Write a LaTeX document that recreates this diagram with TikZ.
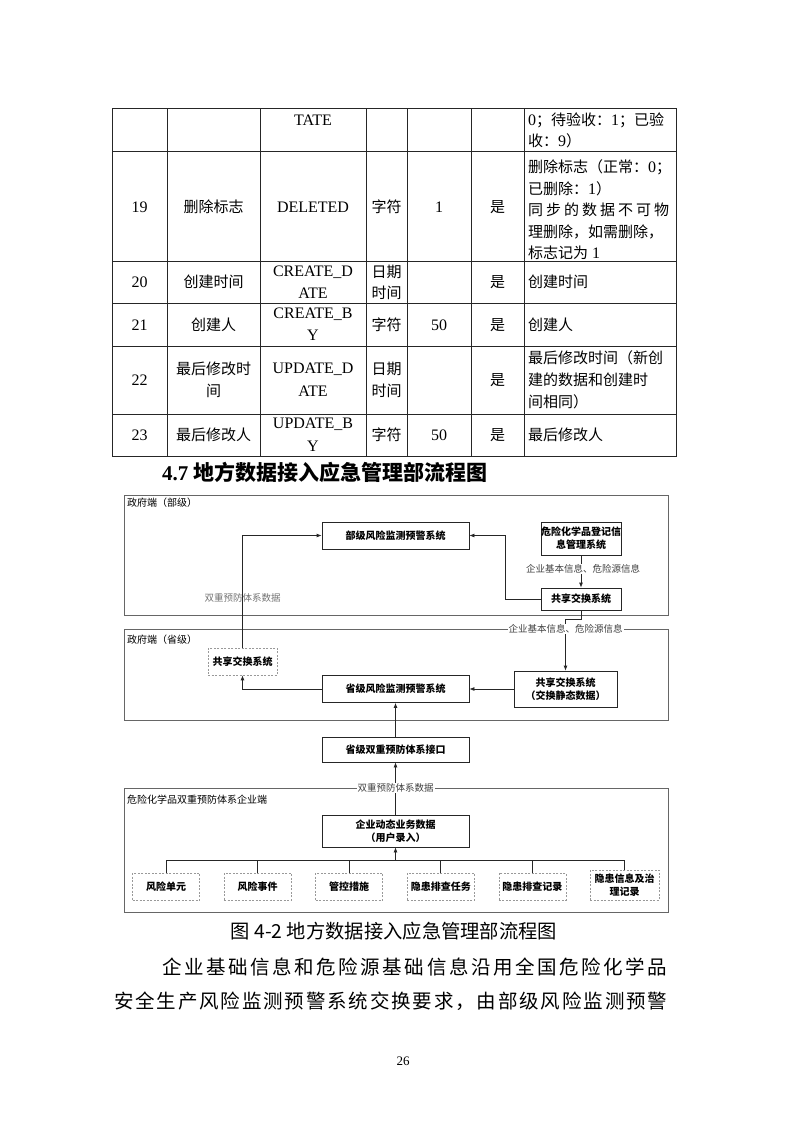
\documentclass[tikz,border=0pt]{standalone}
\usepackage{fontspec}
\setmainfont{Liberation Serif}
\newfontfamily\cjk{Noto Sans CJK SC}
\usetikzlibrary{arrows.meta}
\makeatletter
\newcommand\spreadto[2]{\makebox[#1][s]{\@tfor\spr@ch:=#2\do{\spr@ch\hfil}\unskip}}
\makeatother
\newcommand\zh[1]{{\cjk\fontsize{15}{18}\selectfont #1}}
\begin{document}
\begin{tikzpicture}[x=1pt,y=-1pt,
  tline/.style={draw=black!85, line width=0.9pt},
  tz/.style={inner sep=0pt, font=\cjk\fontsize{15}{18}\selectfont},
  tl/.style={inner sep=0pt, font=\fontsize{16}{18}\selectfont},
  grp/.style={draw=black!60, line width=0.7pt, inner sep=0pt, anchor=north west},
  sys/.style={draw=black!85, line width=0.8pt, inner sep=0pt, align=center, font=\cjk\bfseries\fontsize{10}{13}\selectfont},
  dsh/.style={draw=black!40, dash pattern=on 2pt off 1.5pt, line width=0.7pt, inner sep=0pt, align=center, font=\cjk\bfseries\fontsize{10}{13}\selectfont},
  flow/.style={draw=black!85, line width=0.8pt, -{Latex[length=5pt,width=4pt]}},
  link/.style={draw=black!85, line width=0.8pt},
  glab/.style={inner sep=0pt, anchor=west, font=\cjk\fontsize{10}{12}\selectfont},
  elab/.style={inner sep=1pt, font=\cjk\fontsize{9.5}{12}\selectfont, text=black!75},
]
\useasboundingbox (0,0) rectangle (793,1122);
\fill[white] (0,0) rectangle (793,1122);

% ---------------- table ----------------
\draw[tline] (112,108) rectangle (676,456);
\foreach \yy in {151,261,303,346,414} \draw[tline] (112,\yy) -- (676,\yy);
\foreach \xx in {167,260,366,407,471,524} \draw[tline] (\xx,108) -- (\xx,456);

% row 18 (continued)
\node[tl] (a3) at (313,120) {TATE};
\node[tl, anchor=west] (a7a) at (528,120) {0\zh{；待验收：}1\zh{；已验}};
\node[tl, anchor=west] (a7b) at (528,141) {\zh{收：}9\zh{）}};

% row 19
\node[tl] (b1) at (139.5,207) {19};
\node[tz] (b2) at (213.5,207) {删除标志};
\node[tl] (b3) at (313,207) {DELETED};
\node[tz] (b4) at (386.5,207) {字符};
\node[tl] (b5) at (439,207) {1};
\node[tz] (b6) at (497.5,207) {是};
\node[tl, anchor=west] (b7a) at (528,167) {\zh{删除标志（正常：}0\zh{；}};
\node[tl, anchor=west] (b7b) at (528,189) {\zh{已删除：}1\zh{）}};
\node[tz, anchor=west] (b7c) at (528,210) {\spreadto{141pt}{同步的数据不可物}};
\node[tz, anchor=west] (b7d) at (528,232) {理删除，如需删除，};
\node[tl, anchor=west] (b7e) at (528,253) {\zh{标志记为} 1};

% row 20
\node[tl] (c1) at (139.5,282) {20};
\node[tz] (c2) at (213.5,282) {创建时间};
\node[tl] (c3a) at (313,272) {CREATE\_D};
\node[tl] (c3b) at (313,293) {ATE};
\node[tz] (c4a) at (386.5,272) {日期};
\node[tz] (c4b) at (386.5,293) {时间};
\node[tz] (c6) at (497.5,282) {是};
\node[tz, anchor=west] (c7) at (528,282) {创建时间};

% row 21
\node[tl] (d1) at (139.5,325) {21};
\node[tz] (d2) at (213.5,325) {创建人};
\node[tl] (d3a) at (313,314) {CREATE\_B};
\node[tl] (d3b) at (313,335) {Y};
\node[tz] (d4) at (386.5,325) {字符};
\node[tl] (d5) at (439,325) {50};
\node[tz] (d6) at (497.5,325) {是};
\node[tz, anchor=west] (d7) at (528,325) {创建人};

% row 22
\node[tl] (e1t) at (139.5,380) {22};
\node[tz] (e2a) at (213.5,369) {最后修改时};
\node[tz] (e2b) at (213.5,391) {间};
\node[tl] (e3a) at (313,369) {UPDATE\_D};
\node[tl] (e3b) at (313,391) {ATE};
\node[tz] (e4a) at (386.5,369) {日期};
\node[tz] (e4b) at (386.5,391) {时间};
\node[tz] (e6t) at (497.5,380) {是};
\node[tz, anchor=west] (e7a) at (528,358) {最后修改时间（新创};
\node[tz, anchor=west] (e7b) at (528,380) {建的数据和创建时};
\node[tz, anchor=west] (e7c) at (528,402) {间相同）};

% row 23
\node[tl] (f1) at (139.5,435) {23};
\node[tz] (f2) at (213.5,435) {最后修改人};
\node[tl] (f3a) at (313,424) {UPDATE\_B};
\node[tl] (f3b) at (313,446) {Y};
\node[tz] (f4) at (386.5,435) {字符};
\node[tl] (f5) at (439,435) {50};
\node[tz] (f6) at (497.5,435) {是};
\node[tz, anchor=west] (f7) at (528,435) {最后修改人};

% ---------------- heading ----------------
\node[inner sep=0pt, anchor=west] (head) at (162,472)
  {\fontsize{21}{24}\selectfont\bfseries 4.7 {\cjk\bfseries 地方数据接入应急管理部流程图}};

% ---------------- diagram ----------------
\node[grp, minimum width=544pt, minimum height=120pt] (gbu) at (124,495) {};
\node[grp, minimum width=544pt, minimum height=91pt] (gsh) at (124,629) {};
\node[grp, minimum width=544pt, minimum height=124pt] (gqy) at (124,788) {};
\node[glab] (lbu) at (127,503) {政府端（部级）};
\node[glab] (lsh) at (127,640) {政府端（省级）};
\node[glab] (lqy) at (127,800) {危险化学品双重预防体系企业端};

\node[sys, minimum width=147pt, minimum height=27pt] (bu) at (395.5,535.5) {部级风险监测预警系统};
\node[sys, minimum width=80pt, minimum height=33pt] (hx) at (581,538.5) {危险化学品登记信\\息管理系统};
\node[sys, minimum width=80pt, minimum height=22pt] (gx) at (581,599) {共享交换系统};
\node[sys, minimum width=147pt, minimum height=27pt] (sj) at (395.5,689) {省级风险监测预警系统};
\node[dsh, minimum width=69pt, minimum height=27pt] (gxd) at (242.5,661.5) {共享交换系统};
\node[sys, minimum width=103pt, minimum height=36pt] (jt) at (565.5,689) {共享交换系统\\（交换静态数据）};
\node[sys, minimum width=147pt, minimum height=25pt] (sc) at (395.5,749.5) {省级双重预防体系接口};
\node[sys, minimum width=147pt, minimum height=32pt] (qy) at (395.5,831) {企业动态业务数据\\（用户录入）};

\node[dsh, minimum width=67pt, minimum height=27pt] (k1) at (166,886.5) {风险单元};
\node[dsh, minimum width=67pt, minimum height=27pt] (k2) at (257.6,886.5) {风险事件};
\node[dsh, minimum width=67pt, minimum height=27pt] (k3) at (349.2,886.5) {管控措施};
\node[dsh, minimum width=67pt, minimum height=27pt] (k4) at (440.8,886.5) {隐患排查任务};
\node[dsh, minimum width=67pt, minimum height=27pt] (k5) at (532.4,886.5) {隐患排查记录};
\node[dsh, minimum width=69pt, minimum height=30pt] (k6) at (624.5,885) {隐患信息及治\\理记录};

% connectors
\draw[flow] (hx) -- (gx);
\node[elab, fill=white] (l1) at (583,569) {企业基本信息、危险源信息};
\draw[flow] (gx.west) -- ++(-35,0) |- (bu.east);
\draw[flow] (gxd.north) |- (bu.west);
\node[elab, text=black!55] (l2) at (242.5,598) {双重预防体系数据};
\draw[flow] (gx.south) -- ++(0,9) -| (jt.north);
\node[elab, fill=white] (l3) at (565.5,629) {企业基本信息、危险源信息};
\draw[flow] (jt.west) -- (sj.east);
\draw[flow] (sj.west) -| (gxd.south);
\draw[flow] (sc) -- (sj);
\draw[flow] (qy) -- (sc);
\node[elab, fill=white] (l4) at (395.5,788) {双重预防体系数据};
\coordinate (bus) at (395.5,860);
\draw[flow] (bus) -- (qy.south);
\draw[link] (k1.north |- bus) -- (k6.north |- bus);
\foreach \k in {k1,k2,k3,k4,k5,k6} \draw[link] (\k.north |- bus) -- (\k.north);

% ---------------- caption and text ----------------
\node[inner sep=0pt] (cap) at (394,931)
  {\cjk\fontsize{19.3}{22}\selectfont 图 4-2 地方数据接入应急管理部流程图};
\node[inner sep=0pt, anchor=west] (p1) at (162,967)
  {\cjk\fontsize{19.5}{22}\selectfont\spreadto{505pt}{企业基础信息和危险源基础信息沿用全国危险化学品}};
\node[inner sep=0pt, anchor=west] (p2) at (114,1001)
  {\cjk\fontsize{19.5}{22}\selectfont\spreadto{553pt}{安全生产风险监测预警系统交换要求，由部级风险监测预警}};
\node[inner sep=0pt] (pg) at (403,1061) {\fontsize{13}{15}\selectfont 26};
\end{tikzpicture}
\end{document}
